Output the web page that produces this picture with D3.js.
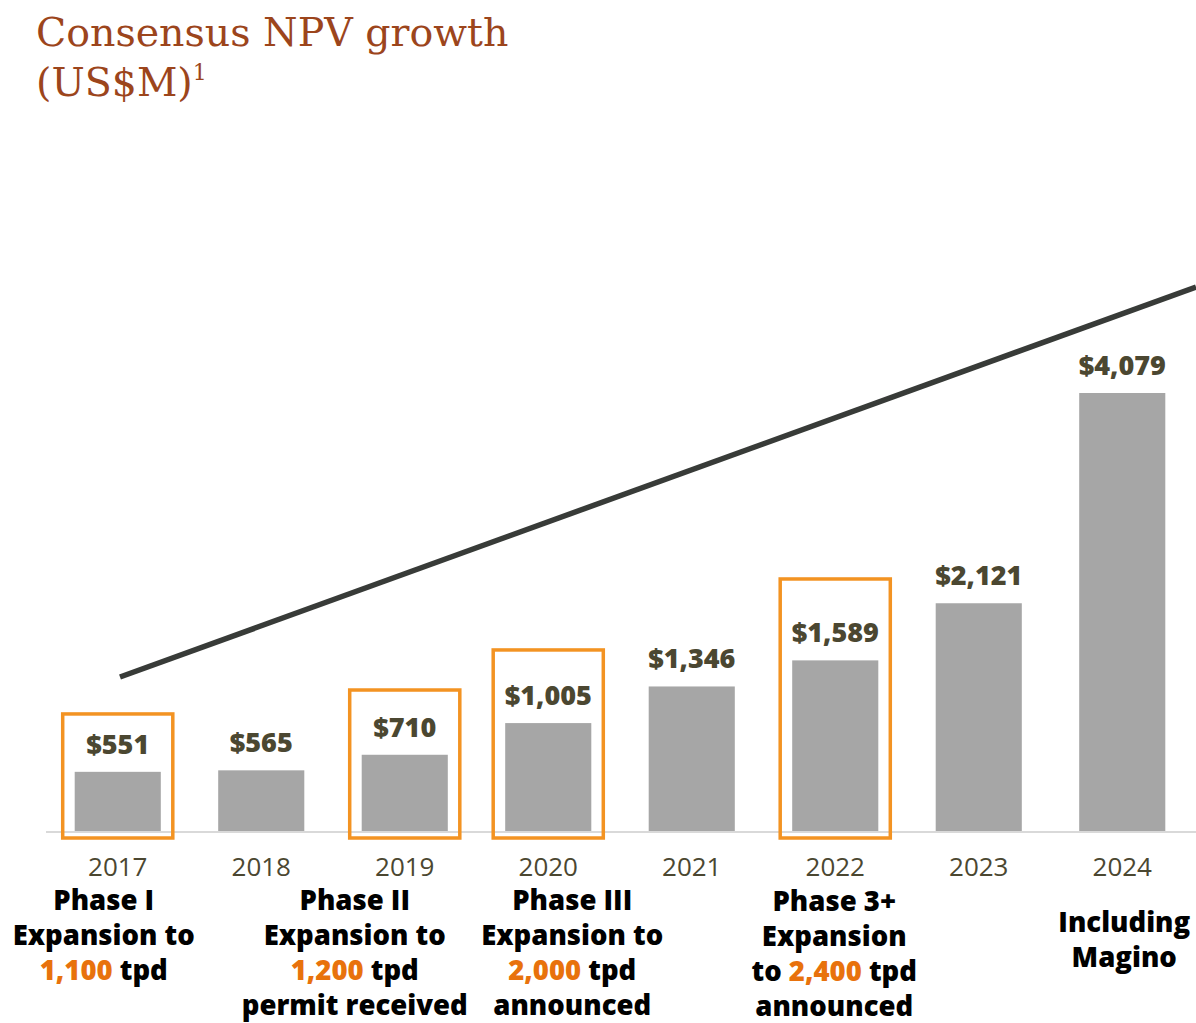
<!DOCTYPE html>
<html>
<head>
<meta charset="utf-8">
<script src="https://cdn.jsdelivr.net/npm/d3@7"></script>
<style>
  body { margin: 0; background: #fff; }
  svg { display: block; }
</style>
</head>
<body>
<svg id="chart" width="1196" height="1023"></svg>
<script>
const years = ['2017', '2018', '2019', '2020', '2021', '2022', '2023', '2024'];
const npv = [551, 565, 710, 1005, 1346, 1589, 2121, 4079];
const highlighted = ['2017', '2019', '2020', '2022'];
// top of each orange highlight box, in US$M units
const highlightTop = [1090, 1313, 1686, 2347];

// annotation lines under the axis; each line is a list of [text, isOrange]
const notes = [
  { year: '2017', dx: -14, top: 910, lines: [[['Phase I', 0]], [['Expansion to', 0]], [['1,100', 1], [' tpd', 0]]] },
  { year: '2019', dx: -50, top: 910, lines: [[['Phase II', 0]], [['Expansion to', 0]], [['1,200', 1], [' tpd', 0]], [['permit received', 0]]] },
  { year: '2020', dx: 24, top: 910, lines: [[['Phase III', 0]], [['Expansion to', 0]], [['2,000', 1], [' tpd', 0]], [['announced', 0]]] },
  { year: '2022', dx: -1, top: 911, lines: [[['Phase 3+', 0]], [['Expansion', 0]], [['to ', 0], ['2,400', 1], [' tpd', 0]], [['announced', 0]]] },
  { year: '2024', dx: 2, top: 932, lines: [[['Including', 0]], [['Magino', 0]]] }
];

const svg = d3.select('#chart');
const baseY = 831;

const x = d3.scaleBand().domain(years).range([46, 1194]).paddingInner(0.4).paddingOuter(0.2);
const y = d3.scaleLinear().domain([0, 4079]).range([baseY, 393]);

// title
svg.append('text')
  .attr('x', 36).attr('y', 46)
  .attr('fill', '#9c451c')
  .style('font-family', '"DejaVu Serif", serif')
  .style('font-size', '39.5px')
  .text('Consensus NPV growth');
const t2 = svg.append('text')
  .attr('x', 36).attr('y', 96)
  .attr('fill', '#9c451c')
  .style('font-family', '"DejaVu Serif", serif')
  .style('font-size', '39.5px');
t2.append('tspan').text('(US$M)');
t2.append('tspan').attr('dy', -16).style('font-size', '22px').text('1');

// axis line
svg.append('line')
  .attr('x1', 46).attr('x2', 1196)
  .attr('y1', baseY + 1).attr('y2', baseY + 1)
  .attr('stroke', '#d9d9d9').attr('stroke-width', 2);

// bars
svg.selectAll('.bar')
  .data(years)
  .enter().append('rect')
  .attr('class', 'bar')
  .attr('x', d => x(d))
  .attr('width', x.bandwidth())
  .attr('y', (d, i) => y(npv[i]))
  .attr('height', (d, i) => baseY - y(npv[i]))
  .attr('fill', '#a6a6a6');

// value labels
svg.selectAll('.val')
  .data(years)
  .enter().append('text')
  .attr('class', 'val')
  .attr('x', d => x(d) + x.bandwidth() / 2)
  .attr('y', (d, i) => y(npv[i]) - 18)
  .attr('text-anchor', 'middle')
  .attr('fill', '#4b4731')
  .style('font-family', '"Open Sans", sans-serif')
  .style('font-weight', 800)
  .style('font-size', '27px')
  .text((d, i) => '$' + d3.format(',')(npv[i]));

// highlight boxes
svg.selectAll('.box')
  .data(highlighted)
  .enter().append('rect')
  .attr('class', 'box')
  .attr('x', d => x(d) - 12)
  .attr('width', x.bandwidth() + 24)
  .attr('y', (d, i) => y(highlightTop[i]))
  .attr('height', (d, i) => baseY + 7 - y(highlightTop[i]))
  .attr('fill', 'none')
  .attr('stroke', '#f39322')
  .attr('stroke-width', 3.5);

// trend line
const tx = d3.scaleLinear().domain([0, 1]).range([120, 1196]);
const ty = d3.scaleLinear().domain([0, 1]).range([677, 287]);
svg.append('path')
  .datum([0, 1])
  .attr('d', d3.line().x(d => tx(d)).y(d => ty(d)))
  .attr('stroke', '#383b38')
  .attr('stroke-width', 5.5)
  .attr('fill', 'none');

// year labels
svg.selectAll('.year')
  .data(years)
  .enter().append('text')
  .attr('class', 'year')
  .attr('x', d => x(d) + x.bandwidth() / 2)
  .attr('y', 876)
  .attr('text-anchor', 'middle')
  .attr('fill', '#4b4731')
  .style('font-family', '"Open Sans", sans-serif')
  .style('font-size', '26px')
  .text(d => d);

// annotations
notes.forEach(n => {
  const cx = x(n.year) + x.bandwidth() / 2 + n.dx;
  n.lines.forEach((ln, li) => {
    const t = svg.append('text')
      .attr('x', cx)
      .attr('y', n.top + li * 35)
      .attr('text-anchor', 'middle')
      .attr('fill', '#000')
      .style('font-family', '"Open Sans", sans-serif')
      .style('font-weight', 800)
      .style('font-size', '27.5px');
    ln.forEach(p => {
      t.append('tspan')
        .attr('fill', p[1] ? '#e8720c' : '#000')
        .text(p[0]);
    });
  });
});
</script>
</body>
</html>
